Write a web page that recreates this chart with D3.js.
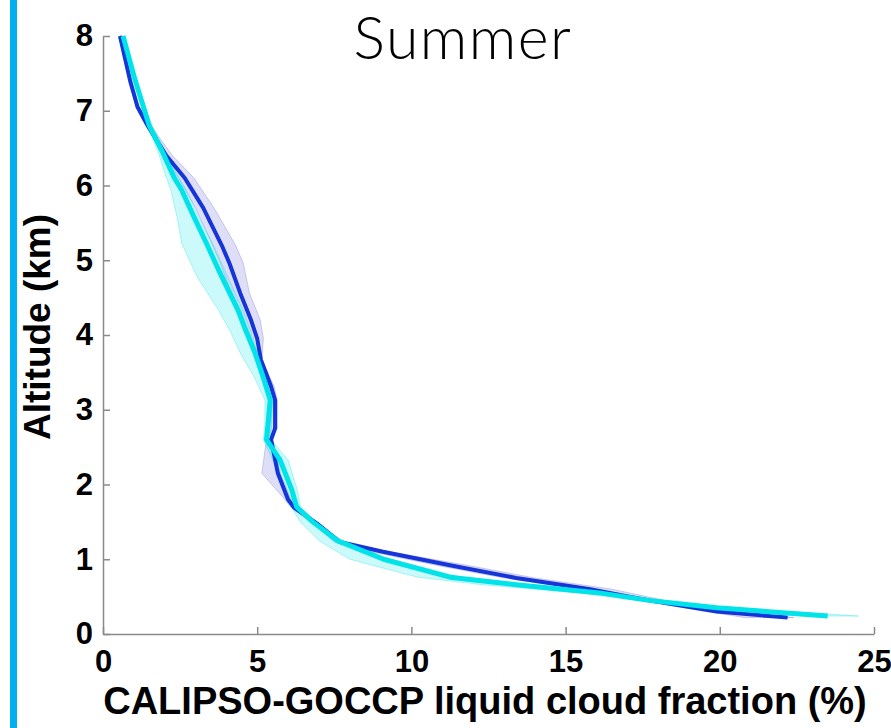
<!DOCTYPE html>
<html>
<head>
<meta charset="utf-8">
<script src="https://cdn.jsdelivr.net/npm/d3@7"></script>
<style>
  body { margin: 0; background: #fff; }
  svg { display: block; }
  .tick text { font-family: "Liberation Sans", Arial, sans-serif; font-weight: bold; fill: #000; }
</style>
</head>
<body>
<svg width="891" height="728"></svg>
<script>
// altitude grid (km) and cloud fraction (%) for the dark blue series
var darkAlt = [8.0, 7.4, 7.05, 6.8, 6.4, 6.1, 5.7, 5.2, 4.96, 4.56, 4.2, 3.95, 3.67, 3.31, 3.13, 2.75, 2.6, 2.15, 1.8, 1.69, 1.48, 1.23, 1.1, 0.92, 0.75, 0.6, 0.45, 0.3, 0.22]
var darkMean = [0.55, 0.88, 1.12, 1.45, 2.05, 2.65, 3.25, 3.85, 4.1, 4.45, 4.8, 5.0, 5.12, 5.45, 5.58, 5.58, 5.45, 5.67, 6.0, 6.2, 6.93, 7.68, 9.08, 11.25, 13.4, 15.8, 17.7, 19.9, 22.2]
var darkLo = [0.55, 0.85, 1.08, 1.4, 1.95, 2.45, 3.0, 3.55, 3.8, 4.15, 4.55, 4.8, 4.98, 5.3, 5.45, 5.45, 5.3, 5.15, 5.9, 6.1, 6.8, 7.5, 8.7, 10.8, 13.0, 15.5, 17.4, 19.6, 20.8]
var darkHi = [0.6, 0.92, 1.18, 1.55, 2.25, 2.95, 3.6, 4.3, 4.55, 4.75, 5.1, 5.2, 5.15, 5.55, 5.65, 5.65, 5.5, 5.75, 6.1, 6.3, 7.0, 7.8, 9.3, 11.8, 14.0, 16.5, 18.2, 20.2, 22.4]

// altitude grid (km) and cloud fraction (%) for the cyan series
var cyanAlt = [8.0, 7.41, 7.0, 6.8, 6.43, 6.11, 5.94, 5.58, 5.23, 4.78, 4.33, 4.07, 3.76, 3.44, 3.13, 2.8, 2.6, 2.33, 1.93, 1.7, 1.5, 1.25, 1.0, 0.76, 0.66, 0.55, 0.45, 0.35, 0.24]
var cyanMean = [0.65, 1.04, 1.35, 1.5, 1.95, 2.3, 2.55, 2.95, 3.35, 3.85, 4.38, 4.62, 4.93, 5.19, 5.42, 5.35, 5.3, 5.74, 6.12, 6.28, 6.8, 7.6, 9.1, 11.25, 13.4, 16.1, 17.7, 19.9, 23.5]
var cyanLo = [0.6, 1.0, 1.3, 1.45, 1.8, 2.05, 2.2, 2.4, 2.55, 3.05, 3.75, 4.1, 4.45, 4.9, 5.25, 5.25, 5.2, 5.5, 5.9, 6.1, 6.4, 7.0, 8.0, 10.2, 12.3, 15.5, 17.3, 19.5, 22.8]
var cyanHi = [0.7, 1.1, 1.4, 1.58, 2.05, 2.45, 2.7, 3.1, 3.55, 4.05, 4.55, 4.78, 5.0, 5.25, 5.5, 5.45, 5.45, 6.0, 6.3, 6.4, 6.9, 7.7, 9.3, 11.6, 13.8, 16.5, 18.0, 20.3, 24.5]

var xTicks = [0, 5, 10, 15, 20, 25]
var yTicks = [0, 1, 2, 3, 4, 5, 6, 7, 8]

var svg = d3.select('svg')

// blue strip down the left edge
svg.append('rect')
  .attr('x', 10).attr('y', 0)
  .attr('width', 7).attr('height', 728)
  .attr('fill', '#00b0f0')

var x = d3.scaleLinear().domain([0, 25]).range([103, 874])
var y = d3.scaleLinear().domain([0, 8]).range([634, 36])

function rows (alt, mean, lo, hi) {
  return alt.map((a, i) => ({ a: a, m: mean[i], lo: lo[i], hi: hi[i] }))
}
var dark = rows(darkAlt, darkMean, darkLo, darkHi)
var cyan = rows(cyanAlt, cyanMean, cyanLo, cyanHi)

var band = d3.area().y((d) => y(d.a)).x0((d) => x(d.lo)).x1((d) => x(d.hi))
var line = d3.line().x((d) => x(d.m)).y((d) => y(d.a))

// shaded spread
svg.append('path').datum(dark).attr('d', band)
  .attr('fill', 'rgba(70,70,210,0.18)')
  .attr('stroke', 'rgba(70,70,210,0.25)').attr('stroke-width', 1)
svg.append('path').datum(cyan).attr('d', band)
  .attr('fill', 'rgba(0,225,230,0.2)')
  .attr('stroke', 'rgba(0,225,230,0.3)').attr('stroke-width', 1)

// mean profiles
svg.append('path').datum(dark).attr('d', line)
  .attr('fill', 'none').attr('stroke', '#1535d8').attr('stroke-width', 4)
  .attr('stroke-linejoin', 'round')
svg.append('path').datum(cyan).attr('d', line)
  .attr('fill', 'none').attr('stroke', '#00e3e8').attr('stroke-width', 5)
  .attr('stroke-linejoin', 'round')

// axes, ticks inward like matlab
svg.append('g')
  .attr('transform', 'translate(0,634)')
  .call(d3.axisBottom(x).tickValues(xTicks).tickSizeInner(-7).tickSizeOuter(0).tickPadding(16))
svg.append('g')
  .attr('transform', 'translate(103,0)')
  .call(d3.axisLeft(y).tickValues(yTicks).tickSizeInner(-7).tickSizeOuter(0).tickPadding(10))

svg.selectAll('.domain, .tick line').attr('stroke', '#8a8a8a').attr('stroke-width', 1.5)
svg.selectAll('.tick text').style('font-size', '31px')

// labels
svg.append('text')
  .attr('x', 485).attr('y', 714)
  .attr('text-anchor', 'middle')
  .style('font-family', '"Liberation Sans", Arial, sans-serif')
  .style('font-weight', 'bold')
  .style('font-size', '38px')
  .text('CALIPSO-GOCCP liquid cloud fraction (%)')

svg.append('text')
  .attr('transform', 'translate(50,327) rotate(-90)')
  .attr('text-anchor', 'middle')
  .style('font-family', '"Liberation Sans", Arial, sans-serif')
  .style('font-weight', 'bold')
  .style('font-size', '37px')
  .text('Altitude (km)')

svg.append('text')
  .attr('x', 463).attr('y', 59)
  .attr('text-anchor', 'middle')
  .style('font-family', 'Lato, sans-serif')
  .style('font-weight', '300')
  .style('font-size', '59px')
  .style('letter-spacing', '1.5px')
  .text('Summer')
</script>
</body>
</html>
